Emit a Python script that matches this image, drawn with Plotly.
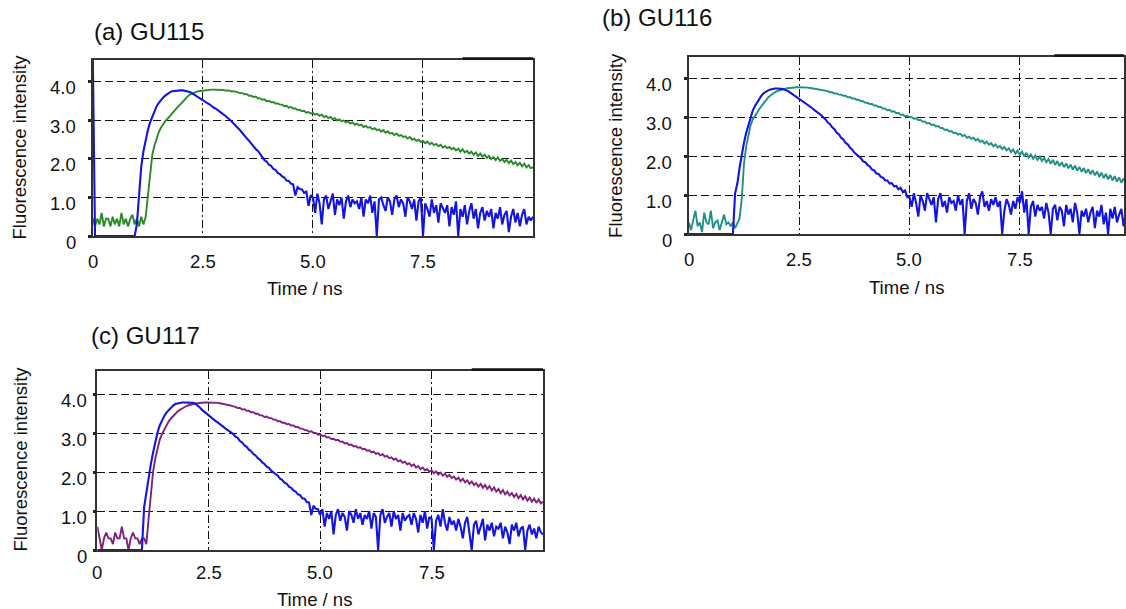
import plotly.graph_objects as go

# time grid of the measurement (ns), 0.05 ns channels
TIME_NS = [round(0.05 * i, 2) for i in range(201)]

BLUE_A = [
    4.6, 0, 0, 0, 0, 0, 0, 0, 0, 0, 0, 0, 0, 0, 0, 0, 0, 0, 0, 0,
    0.3, 1.2, 1.8, 2.2, 2.5, 2.75, 2.95, 3.1, 3.25, 3.37, 3.46, 3.54, 3.6, 3.65, 3.7, 3.73, 3.76, 3.77, 3.78, 3.78,
    3.78, 3.78, 3.77, 3.76, 3.74, 3.71, 3.67, 3.63, 3.6, 3.56, 3.53, 3.49, 3.45, 3.42, 3.37, 3.33, 3.3, 3.25, 3.21, 3.17,
    3.13, 3.09, 3.03, 2.98, 2.91, 2.87, 2.8, 2.74, 2.66, 2.61, 2.53, 2.47, 2.39, 2.34, 2.26, 2.21, 2.12, 2.06, 1.97, 1.93,
    1.85, 1.82, 1.74, 1.72, 1.64, 1.61, 1.55, 1.52, 1.44, 1.43, 1.36, 1.34, 1.05, 1.27, 1.22, 1.21, 1.12, 1.15, 0.78, 1.06,
    1.0, 0.6, 1.1, 0.85, 0.3, 0.95, 1.05, 0.7, 0.9, 1.1, 0.55, 0.95, 0.8, 1.0, 0.45, 0.9, 1.05, 0.75, 0.95, 0.85,
    0.9, 0.7, 1.0, 0.5, 0.95, 0.85, 1.05, 0.6, 0.9, 0.0, 0.95, 1.0, 0.8, 0.65, 1.0, 0.9, 0.55, 0.95, 1.05, 0.75,
    0.95, 0.85, 0.5, 1.0, 0.9, 0.7, 0.95, 0.4, 0.9, 1.0, 0.0, 0.85, 0.7, 0.5, 0.95, 0.6, 0.8, 0.35, 0.85, 0.7,
    0.6, 0.8, 0.25, 0.75, 0.55, 0.9, 0.0, 0.7, 0.5, 0.8, 0.3, 0.65, 0.85, 0.45, 0.7, 0.2, 0.6, 0.75, 0.4, 0.65,
    0.5, 0.7, 0.2, 0.6, 0.45, 0.75, 0.3, 0.55, 0.65, 0.1, 0.5, 0.7, 0.35, 0.6, 0.25, 0.55, 0.7, 0.3, 0.5, 0.4,
    0.5,
]

GREEN_A = [
    0.45, 0.25, 0.45, 0.3, 0.6, 0.25, 0.45, 0.45, 0.25, 0.5, 0.3, 0.45, 0.25, 0.6, 0.3, 0.45, 0.25, 0.45, 0.55, 0.3,
    0.45, 0.25, 0.5, 0.3, 0.5, 1.1, 1.7, 2.1, 2.35, 2.55, 2.7, 2.82, 2.92, 2.99, 3.05, 3.12, 3.2, 3.27, 3.33, 3.38,
    3.43, 3.5, 3.56, 3.62, 3.67, 3.7, 3.72, 3.74, 3.76, 3.77, 3.78, 3.79, 3.79, 3.8, 3.8, 3.8, 3.8, 3.79, 3.8, 3.79,
    3.78, 3.77, 3.78, 3.75, 3.76, 3.74, 3.73, 3.71, 3.71, 3.68, 3.68, 3.64, 3.64, 3.61, 3.62, 3.57, 3.58, 3.54, 3.55, 3.5,
    3.51, 3.47, 3.48, 3.44, 3.44, 3.41, 3.41, 3.37, 3.38, 3.33, 3.35, 3.31, 3.31, 3.27, 3.28, 3.24, 3.25, 3.2, 3.22, 3.18,
    3.2, 3.15, 3.17, 3.12, 3.15, 3.09, 3.12, 3.06, 3.09, 3.03, 3.06, 3.0, 3.03, 2.98, 3.0, 2.95, 2.98, 2.92, 2.95, 2.89,
    2.92, 2.87, 2.89, 2.83, 2.86, 2.81, 2.83, 2.77, 2.8, 2.75, 2.77, 2.71, 2.75, 2.68, 2.72, 2.66, 2.68, 2.62, 2.66, 2.6,
    2.62, 2.57, 2.59, 2.53, 2.57, 2.5, 2.53, 2.47, 2.5, 2.44, 2.47, 2.41, 2.45, 2.38, 2.42, 2.36, 2.39, 2.33, 2.37, 2.3,
    2.34, 2.28, 2.31, 2.25, 2.29, 2.22, 2.27, 2.19, 2.25, 2.17, 2.21, 2.14, 2.19, 2.11, 2.17, 2.08, 2.14, 2.06, 2.11, 2.03,
    2.08, 2.0, 2.05, 1.97, 2.04, 1.95, 2.0, 1.92, 1.98, 1.89, 1.96, 1.87, 1.92, 1.84, 1.9, 1.81, 1.88, 1.78, 1.84, 1.76,
    1.78,
]

BLUE_B = [
    0, 0, 0, 0, 0, 0, 0, 0, 0, 0, 0, 0, 0, 0, 0, 0, 0, 0, 0, 0,
    0, 1.05, 1.3, 1.7, 2.05, 2.35, 2.6, 2.8, 3.0, 3.18, 3.3, 3.4, 3.5, 3.57, 3.63, 3.67, 3.7, 3.72, 3.74, 3.75,
    3.75, 3.75, 3.74, 3.73, 3.71, 3.68, 3.64, 3.6, 3.56, 3.53, 3.5, 3.46, 3.42, 3.38, 3.33, 3.29, 3.24, 3.19, 3.15, 3.1,
    3.06, 3.0, 2.95, 2.87, 2.83, 2.75, 2.7, 2.61, 2.57, 2.48, 2.44, 2.35, 2.31, 2.23, 2.18, 2.1, 2.05, 1.98, 1.95, 1.87,
    1.85, 1.78, 1.74, 1.66, 1.64, 1.56, 1.55, 1.47, 1.45, 1.38, 1.38, 1.3, 1.31, 1.23, 1.24, 1.15, 1.19, 1.08, 1.12, 0.95,
    0.95, 0.7, 1.05, 0.8, 0.45, 1.0, 0.85, 0.6, 1.05, 0.9, 0.75, 0.95, 0.3, 0.9, 1.05, 0.7, 0.85, 0.55, 0.95, 0.8,
    0.85, 0.6, 1.0, 0.75, 0.9, 0.0, 0.85, 1.05, 0.65, 0.9, 0.8, 0.5, 0.95, 1.1, 0.7, 0.85, 0.6, 0.9, 0.75, 0.95,
    0.7, 0.85, 0.0, 0.6, 0.9, 0.75, 0.5, 0.85, 0.65, 0.95, 0.8, 1.1, 0.55, 0.9, 0.0, 0.7, 0.85, 0.45, 0.75, 0.6,
    0.7, 0.4, 0.8, 0.55, 0.0, 0.65, 0.75, 0.35, 0.7, 0.6, 0.2, 0.75, 0.5, 0.65, 0.3, 0.8, 0.55, 0.0, 0.6, 0.45,
    0.65, 0.3, 0.55, 0.7, 0.15, 0.6, 0.45, 0.75, 0.25, 0.55, 0.0, 0.65, 0.4, 0.7, 0.3, 0.5, 0.65, 0.2, 0.55, 0.45,
    0.5,
]

TEAL_B = [
    0.3, 0.1, 0.35, 0.6, 0.2, 0.3, 0.05, 0.55, 0.3, 0.25, 0.6, 0.15, 0.3, 0.35, 0.1, 0.3, 0.5, 0.25, 0.3, 0.2,
    0.3, 0.15, 0.3, 0.4, 0.9, 1.8, 2.25, 2.58, 2.8, 2.95, 3.05, 3.14, 3.22, 3.3, 3.38, 3.45, 3.52, 3.57, 3.62, 3.65,
    3.68, 3.7, 3.72, 3.73, 3.75, 3.76, 3.76, 3.77, 3.77, 3.78, 3.78, 3.78, 3.78, 3.77, 3.77, 3.76, 3.75, 3.74, 3.73, 3.72,
    3.71, 3.7, 3.68, 3.68, 3.65, 3.65, 3.62, 3.62, 3.59, 3.59, 3.56, 3.56, 3.52, 3.53, 3.49, 3.49, 3.46, 3.46, 3.42, 3.42,
    3.38, 3.38, 3.35, 3.35, 3.31, 3.31, 3.27, 3.27, 3.23, 3.23, 3.19, 3.2, 3.15, 3.16, 3.11, 3.12, 3.07, 3.08, 3.03, 3.04,
    3.01, 3.01, 2.97, 2.98, 2.93, 2.94, 2.89, 2.9, 2.85, 2.86, 2.81, 2.82, 2.77, 2.78, 2.73, 2.73, 2.68, 2.69, 2.64, 2.65,
    2.6, 2.61, 2.56, 2.58, 2.52, 2.55, 2.48, 2.51, 2.45, 2.48, 2.41, 2.45, 2.37, 2.41, 2.33, 2.38, 2.3, 2.34, 2.26, 2.31,
    2.23, 2.27, 2.19, 2.24, 2.15, 2.21, 2.11, 2.18, 2.07, 2.15, 2.04, 2.12, 2.0, 2.09, 1.97, 2.05, 1.94, 2.02, 1.91, 1.99,
    1.88, 1.96, 1.85, 1.93, 1.81, 1.91, 1.78, 1.88, 1.75, 1.85, 1.72, 1.82, 1.69, 1.79, 1.66, 1.76, 1.63, 1.73, 1.6, 1.7,
    1.57, 1.67, 1.54, 1.64, 1.51, 1.61, 1.47, 1.58, 1.44, 1.55, 1.41, 1.52, 1.38, 1.49, 1.35, 1.46, 1.32, 1.43, 1.29, 1.4,
    1.3,
]

BLUE_C = [
    0, 0, 0, 0, 0, 0, 0, 0, 0, 0, 0, 0, 0, 0, 0, 0, 0, 0, 0, 0,
    0, 1.1, 1.5, 1.9, 2.2, 2.5, 2.8, 3.02, 3.2, 3.33, 3.44, 3.53, 3.6, 3.66, 3.71, 3.75, 3.77, 3.78, 3.79, 3.79,
    3.79, 3.79, 3.79, 3.78, 3.76, 3.72, 3.66, 3.6, 3.55, 3.5, 3.45, 3.41, 3.37, 3.32, 3.28, 3.23, 3.19, 3.14, 3.1, 3.06,
    3.02, 2.98, 2.91, 2.88, 2.8, 2.76, 2.69, 2.65, 2.58, 2.54, 2.47, 2.43, 2.36, 2.32, 2.25, 2.21, 2.14, 2.11, 2.04, 2.0,
    1.94, 1.91, 1.83, 1.8, 1.73, 1.7, 1.63, 1.6, 1.53, 1.5, 1.43, 1.41, 1.33, 1.32, 1.23, 1.22, 0.9, 1.14, 1.06, 1.05,
    0.9, 1.05, 0.6, 0.95, 0.8, 1.0, 0.4, 0.9, 1.05, 0.75, 0.95, 0.85, 0.5, 1.0, 0.9, 0.7, 1.05, 0.8, 0.95, 0.65,
    0.9, 0.8, 1.0, 0.55, 0.95, 0.85, 0.0, 0.9, 1.05, 0.7, 0.85, 0.95, 0.6, 1.0, 0.8, 0.9, 0.5, 0.95, 0.75, 0.85,
    0.9, 0.65, 0.95, 0.8, 0.45, 0.9, 0.7, 1.0, 0.55, 0.85, 0.8, 0.0, 0.75, 0.9, 0.6, 1.05, 0.7, 0.5, 0.85, 0.65,
    0.75, 0.5, 0.8, 0.6, 0.3, 0.7, 0.85, 0.45, 0.0, 0.65, 0.75, 0.4, 0.6, 0.8, 0.25, 0.65, 0.5, 0.7, 0.35, 0.6,
    0.55, 0.7, 0.3, 0.6, 0.45, 0.15, 0.65, 0.5, 0.7, 0.35, 0.55, 0.6, 0.0, 0.5, 0.65, 0.4, 0.55, 0.3, 0.6, 0.45,
    0.4,
]

PURPLE_C = [
    0.6, 0.3, 0.0, 0.3, 0.45, 0.3, 0.3, 0.15, 0.45, 0.3, 0.3, 0.6, 0.3, 0.3, 0.0, 0.3, 0.45, 0.3, 0.3, 0.15,
    0.3, 0.3, 0.15, 0.8, 1.5, 2.0, 2.35, 2.62, 2.83, 2.98, 3.1, 3.2, 3.3, 3.38, 3.45, 3.51, 3.56, 3.6, 3.64, 3.67,
    3.7, 3.72, 3.74, 3.75, 3.76, 3.77, 3.78, 3.78, 3.79, 3.79, 3.79, 3.79, 3.79, 3.78, 3.78, 3.77, 3.76, 3.75, 3.74, 3.73,
    3.71, 3.69, 3.68, 3.65, 3.65, 3.61, 3.62, 3.58, 3.58, 3.54, 3.54, 3.5, 3.5, 3.46, 3.46, 3.42, 3.43, 3.39, 3.39, 3.35,
    3.35, 3.31, 3.31, 3.27, 3.27, 3.23, 3.24, 3.2, 3.2, 3.16, 3.16, 3.12, 3.12, 3.08, 3.08, 3.04, 3.05, 3.01, 3.01, 2.97,
    2.97, 2.93, 2.94, 2.89, 2.9, 2.85, 2.86, 2.82, 2.83, 2.78, 2.79, 2.74, 2.75, 2.7, 2.71, 2.66, 2.67, 2.63, 2.64, 2.59,
    2.6, 2.55, 2.56, 2.51, 2.53, 2.47, 2.49, 2.43, 2.46, 2.4, 2.42, 2.36, 2.38, 2.32, 2.35, 2.28, 2.31, 2.24, 2.27, 2.2,
    2.23, 2.16, 2.2, 2.12, 2.16, 2.08, 2.12, 2.05, 2.08, 2.01, 2.05, 1.97, 2.02, 1.94, 1.99, 1.91, 1.96, 1.88, 1.93, 1.85,
    1.89, 1.81, 1.86, 1.77, 1.83, 1.74, 1.79, 1.7, 1.76, 1.67, 1.72, 1.63, 1.7, 1.6, 1.67, 1.57, 1.64, 1.53, 1.61, 1.5,
    1.57, 1.46, 1.54, 1.43, 1.5, 1.4, 1.46, 1.36, 1.44, 1.33, 1.41, 1.3, 1.38, 1.27, 1.35, 1.24, 1.32, 1.21, 1.3, 1.2,
    1.24,
]

PANEL_TITLES = ["(a) GU115", "(b) GU116", "(c) GU117"]
X_TICKS = [0, 2.5, 5.0, 7.5]
X_TICK_TEXT = ["0", "2.5", "5.0", "7.5"]
Y_TICKS = [0, 1, 2, 3, 4]
Y_TICK_TEXT = ["0", "1.0", "2.0", "3.0", "4.0"]
X_TITLE = "Time / ns"
Y_TITLE = "Fluorescence intensity"

BLUE = "#1414e0"
GREEN = "#2a8a2a"
TEAL = "#1f9088"
PURPLE = "#80207f"

W, H = 1126, 609
FONT = "Arial, Liberation Sans, sans-serif"
TICK_SIZE = 18.5

def px_x(p):
    return p / W

def px_y(p):
    return 1 - p / H

# panel geometry (pixels): left, right, top, bottom, x max, y max,
# right edge of y tick labels, centre line of x tick labels
panels = [
    dict(l=93, r=534, t=60, b=236, xmax=10.0, ymax=4.57, ylab_r=78, xlab_y=261),
    dict(l=690, r=1126, t=57, b=234, xmax=9.86, ymax=4.56, ylab_r=675, xlab_y=260),
    dict(l=97.5, r=544, t=371, b=550, xmax=10.0, ymax=4.6, ylab_r=89, xlab_y=572),
]

series = [
    [(GREEN_A, GREEN), (BLUE_A, BLUE)],
    [(TEAL_B, TEAL), (BLUE_B, BLUE)],
    [(PURPLE_C, PURPLE), (BLUE_C, BLUE)],
]

fig = go.Figure()
layout_axes = {}
shapes = []
annotations = []
for i, (p, sers) in enumerate(zip(panels, series)):
    n = "" if i == 0 else str(i + 1)
    for vals, col in sers:
        fig.add_trace(go.Scatter(
            x=TIME_NS, y=vals, mode="lines",
            line=dict(color=col, width=2.1 if col == BLUE else 1.9),
            xaxis="x" + n, yaxis="y" + n, showlegend=False, hoverinfo="skip"))
    layout_axes["xaxis" + n] = dict(
        domain=[px_x(p["l"]), min(1.0, px_x(p["r"]))], range=[0, p["xmax"]],
        anchor="y" + n, tickvals=X_TICKS, showticklabels=False,
        showline=True, linecolor="#333", linewidth=1.5, mirror=True,
        showgrid=True, gridcolor="#111", gridwidth=1.3, griddash="8px,3px,2px,3px",
        zeroline=False, ticks="",
    )
    layout_axes["yaxis" + n] = dict(
        domain=[px_y(p["b"]), px_y(p["t"])], range=[0, p["ymax"]],
        anchor="x" + n, tickvals=Y_TICKS, showticklabels=False,
        showline=True, linecolor="#333", linewidth=1.5, mirror=True,
        showgrid=True, gridcolor="#111", gridwidth=1.3, griddash="8px,4px",
        zeroline=False, ticks="outside", ticklen=3, tickwidth=3, tickcolor="#222",
    )
    # tick labels placed as text at the axis' own tick values
    for v, txt in zip(Y_TICKS, Y_TICK_TEXT):
        annotations.append(dict(text=txt, x=px_x(p["ylab_r"]), y=v, xref="paper", yref="y" + n,
                                xanchor="right", yanchor="middle", yshift=-6, showarrow=False,
                                font=dict(family=FONT, size=TICK_SIZE, color="#111")))
    for v, txt in zip(X_TICKS, X_TICK_TEXT):
        annotations.append(dict(text=txt, x=v, y=px_y(p["xlab_y"]), xref="x" + n, yref="paper",
                                xanchor="center", yanchor="middle", showarrow=False,
                                font=dict(family=FONT, size=TICK_SIZE, color="#111")))
    shapes.append(dict(type="line", xref="x" + n + " domain", yref="y" + n + " domain",
                       x0=0.84, x1=1.0, y0=1.008, y1=1.008,
                       line=dict(color="#111", width=2.5)))

title_pos = [(149, 31), (658, 18), (146, 335)]
ytitle_pos = [(19.5, 147), (616, 145), (20.5, 459)]
xtitle_pos = [(305, 288), (908, 287), (315, 599)]
for k in range(3):
    annotations.append(dict(text=PANEL_TITLES[k], x=px_x(title_pos[k][0]), y=px_y(title_pos[k][1]),
                            xref="paper", yref="paper", showarrow=False, xanchor="center", yanchor="middle",
                            font=dict(family=FONT, size=24, color="#111")))
    annotations.append(dict(text=Y_TITLE, x=px_x(ytitle_pos[k][0]), y=px_y(ytitle_pos[k][1]),
                            xref="paper", yref="paper", showarrow=False, xanchor="center", yanchor="middle",
                            textangle=-90, font=dict(family=FONT, size=18.5, color="#111")))
    annotations.append(dict(text=X_TITLE, x=px_x(xtitle_pos[k][0]), y=px_y(xtitle_pos[k][1]),
                            xref="paper", yref="paper", showarrow=False, xanchor="center", yanchor="middle",
                            font=dict(family=FONT, size=18.5, color="#111")))

fig.update_layout(
    width=W, height=H, margin=dict(l=0, r=0, t=0, b=0),
    paper_bgcolor="white", plot_bgcolor="white",
    annotations=annotations, shapes=shapes, **layout_axes,
)

fig.write_html("out.html", config={"displayModeBar": False})
